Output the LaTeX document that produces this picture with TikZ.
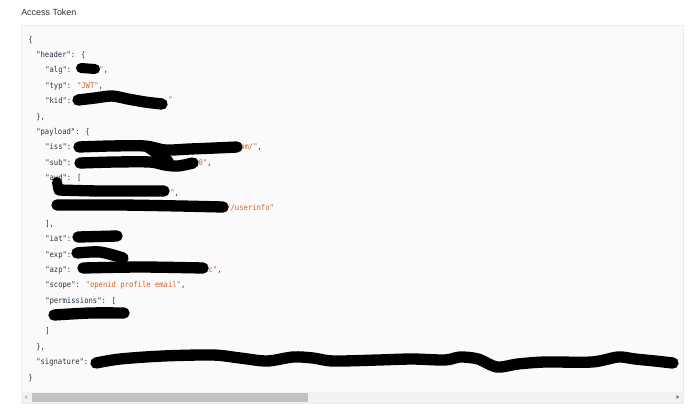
\documentclass[tikz,border=0pt]{standalone}
\usepackage{fontspec}
\setmainfont{Liberation Sans}
\newfontfamily\codefont[FakeStretch=0.9]{DejaVu Sans Mono}
\definecolor{keyc}{HTML}{2A3542}
\definecolor{strc}{HTML}{D2652B}
\definecolor{panelbg}{HTML}{FAFAFA}
\definecolor{panelbd}{HTML}{EBEBEB}
\definecolor{trackc}{HTML}{F1F1F1}
\definecolor{thumbc}{HTML}{C1C1C1}
\definecolor{titlec}{HTML}{333333}
\newcommand\jstr[1]{\textcolor{strc}{#1}}
\begin{document}
\begin{tikzpicture}[x=0.75pt,y=-0.75pt,
  code/.style={anchor=west,inner sep=0pt,text height=4.4pt,text depth=1.3pt,
    font=\codefont\fontsize{6}{7}\selectfont,text=keyc},
  redact/.style={line width=8.5pt,line cap=round,line join=round,black},
  thinredact/.style={redact,line width=7.5pt}]
\useasboundingbox (0,0) rectangle (690,412);
\fill[white] (0,0) rectangle (690,412);
% title
\node[anchor=west,inner sep=0pt,text=titlec,font=\fontsize{6.7}{8}\selectfont] (title) at (21,12) {Access Token};
% panel
\filldraw[fill=panelbg,draw=panelbd,line width=0.75pt] (21,25) rectangle (683,403);
% scrollbar
\fill[trackc] (21.4,392) rectangle (682.6,402.6);
\fill[thumbc] (32,393) rectangle (308,402);
\fill[gray!55] (24.5,397) -- (27,395) -- (27,399) -- cycle;
\fill[gray!80!black] (679,397) -- (676.5,395) -- (676.5,399) -- cycle;
% code text
\node[code] (l0) at (28,40) {\{};
\node[code] (l1) at (36,55) {"header": \{};
\node[code] (l2) at (45,70) {"alg":};
\node[code] (l2b) at (99,70) {\jstr{"},};
\node[code] (l3) at (45,86) {"typ": \jstr{"JWT"},};
\node[code] (l4) at (45,101) {"kid":};
\node[code] (l4b) at (168,100) {\jstr{"}};
\node[code] (l5) at (36,117) {\},};
\node[code] (l6) at (36,132) {"payload": \{};
\node[code] (l7) at (45,147) {"iss":};
\node[code] (l7b) at (240,147) {\jstr{om/"},};
\node[code] (l8) at (45,163) {"sub":};
\node[code] (l8b) at (194,163) {\jstr{00"},};
\node[code] (l9) at (45,178) {"aud": [};
\node[code] (l10) at (170,193) {\jstr{"},};
\node[code] (l11) at (226,208) {\jstr{//userinfo"}};
\node[code] (l12) at (45,224) {],};
\node[code] (l13) at (45,239) {"iat":};
\node[code] (l14) at (45,255) {"exp":};
\node[code] (l15) at (45,270) {"azp": \jstr{"}};
\node[code] (l15b) at (204,270) {\jstr{ic"},};
\node[code] (l16) at (45,285) {"scope": \jstr{"openid profile email"},};
\node[code] (l17) at (45,301) {"permissions": [};
\node[code] (l19) at (45,331) {]};
\node[code] (l20) at (36,347) {\},};
\node[code] (l21) at (36,362) {"signature":};
\node[code] (l22) at (28,378) {\}};
% redaction strokes
\draw[thinredact] (81,68) -- (95,69);
\draw[redact] plot[smooth] coordinates {(78,100) (95,98) (112,96) (128,99) (145,102) (162,104)};
\draw[redact] plot[smooth] coordinates {(79,147) (110,146) (145,146) (165,150) (190,149) (215,148) (237,147)};
\draw[redact] (148,147) -- (168,161);
\draw[redact] plot[smooth] coordinates {(80,163) (115,162) (150,162) (165,165) (178,166) (193,163)};
\draw[thinredact] (57,182) -- (58,188);
\draw[redact] plot[smooth] coordinates {(59,190) (100,191) (164,191)};
\draw[redact] plot[smooth] coordinates {(57,205) (120,205) (180,206) (223,207)};
\draw[redact] (78,237) -- (117,236);
\draw[redact] plot[smooth] coordinates {(77,253) (100,252) (123,258)};
\draw[redact] plot[smooth] coordinates {(83,268) (140,267) (203,268)};
\draw[redact] plot[smooth] coordinates {(54,315) (90,313) (124,313)};
\draw[redact] plot[smooth] coordinates {(96,363) (120,359) (163,356) (213,355) (240,358) (267,361) (293,357) (313,358) (333,361) (378,360) (412,359) (445,360) (460,357) (478,359) (497,367) (518,364) (545,362) (592,362) (618,357) (635,359) (655,361) (673,363)};
\end{tikzpicture}
\end{document}
